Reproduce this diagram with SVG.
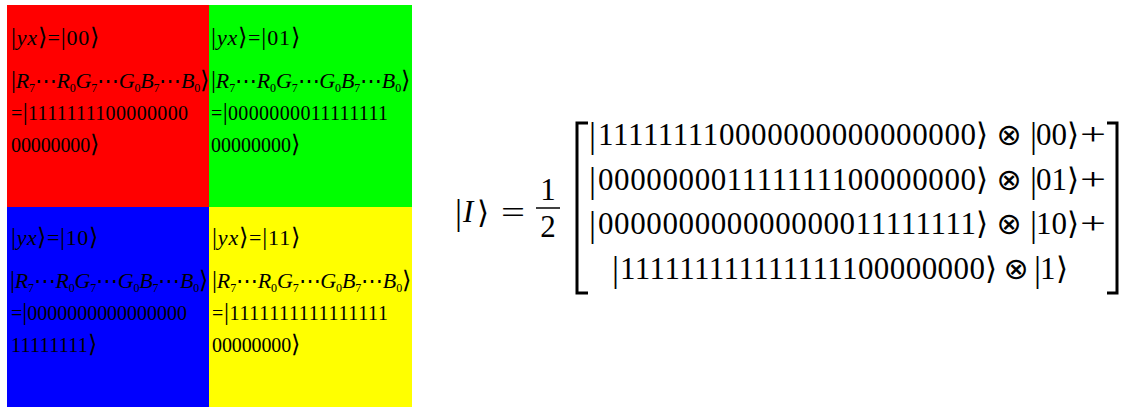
<svg xmlns="http://www.w3.org/2000/svg" width="1124" height="407" viewBox="0 0 1124 407">
<style>
.q{font-family:"Liberation Serif","DejaVu Serif",serif;font-size:20px;fill:#000}
.q1{font-size:22px}
.i{font-style:italic}
.s{font-size:12px;font-style:normal}
.b{font-size:25px;font-style:normal}
.a{font-family:"Noto Sans CJK SC","DejaVu Sans",sans-serif;font-size:24px;font-style:normal;font-weight:300}
.m{font-family:"Liberation Serif","DejaVu Serif",serif;font-size:31px;fill:#000}
.mb{font-family:"Liberation Serif","DejaVu Serif",serif;font-size:35px;fill:#000}
.ma{font-family:"Noto Sans CJK SC","DejaVu Sans",sans-serif;font-size:31px;font-weight:300;fill:#000}
.op{font-family:"DejaVu Sans",sans-serif;font-size:30px;fill:#000}
.br{fill:none;stroke:#000;stroke-width:3}
</style>
<rect width="1124" height="407" fill="#fff"/>
<g id="q00">
<rect x="7" y="5" width="202" height="202" fill="#ff0000"/>
<text class="q q1" x="11" y="45" textLength="88" lengthAdjust="spacing"><tspan class="b">|</tspan><tspan class="i">yx</tspan><tspan class="a">⟩</tspan>=<tspan class="b">|</tspan>00<tspan class="a">⟩</tspan></text>
<text class="q q1" x="11" y="88" textLength="198" lengthAdjust="spacing"><tspan class="b">|</tspan><tspan class="i">R</tspan><tspan class="s" dy="4">7</tspan><tspan dy="-4">⋯</tspan><tspan class="i">R</tspan><tspan class="s" dy="4">0</tspan><tspan class="i" dy="-4">G</tspan><tspan class="s" dy="4">7</tspan><tspan dy="-4">⋯</tspan><tspan class="i">G</tspan><tspan class="s" dy="4">0</tspan><tspan class="i" dy="-4">B</tspan><tspan class="s" dy="4">7</tspan><tspan dy="-4">⋯</tspan><tspan class="i">B</tspan><tspan class="s" dy="4">0</tspan><tspan class="a" dy="-4">⟩</tspan></text>
<text class="q" x="11" y="120" textLength="177" lengthAdjust="spacing">=<tspan class="b">|</tspan>1111111100000000</text>
<text class="q" x="11" y="152" textLength="88" lengthAdjust="spacing">00000000<tspan class="a">⟩</tspan></text>
</g>
<g id="q01">
<rect x="209" y="5" width="203" height="202" fill="#00ff00"/>
<text class="q q1" x="211" y="45" textLength="89" lengthAdjust="spacing"><tspan class="b">|</tspan><tspan class="i">yx</tspan><tspan class="a">⟩</tspan>=<tspan class="b">|</tspan>01<tspan class="a">⟩</tspan></text>
<text class="q q1" x="211" y="88" textLength="199" lengthAdjust="spacing"><tspan class="b">|</tspan><tspan class="i">R</tspan><tspan class="s" dy="4">7</tspan><tspan dy="-4">⋯</tspan><tspan class="i">R</tspan><tspan class="s" dy="4">0</tspan><tspan class="i" dy="-4">G</tspan><tspan class="s" dy="4">7</tspan><tspan dy="-4">⋯</tspan><tspan class="i">G</tspan><tspan class="s" dy="4">0</tspan><tspan class="i" dy="-4">B</tspan><tspan class="s" dy="4">7</tspan><tspan dy="-4">⋯</tspan><tspan class="i">B</tspan><tspan class="s" dy="4">0</tspan><tspan class="a" dy="-4">⟩</tspan></text>
<text class="q" x="211" y="120" textLength="177" lengthAdjust="spacing">=<tspan class="b">|</tspan>0000000011111111</text>
<text class="q" x="211" y="152" textLength="89" lengthAdjust="spacing">00000000<tspan class="a">⟩</tspan></text>
</g>
<g id="q10">
<rect x="7" y="207" width="202" height="200" fill="#0000ff"/>
<text class="q q1" x="11" y="245" textLength="87" lengthAdjust="spacing"><tspan class="b">|</tspan><tspan class="i">yx</tspan><tspan class="a">⟩</tspan>=<tspan class="b">|</tspan>10<tspan class="a">⟩</tspan></text>
<text class="q q1" x="10" y="288" textLength="198" lengthAdjust="spacing"><tspan class="b">|</tspan><tspan class="i">R</tspan><tspan class="s" dy="4">7</tspan><tspan dy="-4">⋯</tspan><tspan class="i">R</tspan><tspan class="s" dy="4">0</tspan><tspan class="i" dy="-4">G</tspan><tspan class="s" dy="4">7</tspan><tspan dy="-4">⋯</tspan><tspan class="i">G</tspan><tspan class="s" dy="4">0</tspan><tspan class="i" dy="-4">B</tspan><tspan class="s" dy="4">7</tspan><tspan dy="-4">⋯</tspan><tspan class="i">B</tspan><tspan class="s" dy="4">0</tspan><tspan class="a" dy="-4">⟩</tspan></text>
<text class="q" x="11" y="320" textLength="176" lengthAdjust="spacing">=<tspan class="b">|</tspan>0000000000000000</text>
<text class="q" x="11" y="352" textLength="86" lengthAdjust="spacing">11111111<tspan class="a">⟩</tspan></text>
</g>
<g id="q11">
<rect x="209" y="207" width="203" height="200" fill="#ffff00"/>
<text class="q q1" x="212" y="245" textLength="88" lengthAdjust="spacing"><tspan class="b">|</tspan><tspan class="i">yx</tspan><tspan class="a">⟩</tspan>=<tspan class="b">|</tspan>11<tspan class="a">⟩</tspan></text>
<text class="q q1" x="212" y="288" textLength="199" lengthAdjust="spacing"><tspan class="b">|</tspan><tspan class="i">R</tspan><tspan class="s" dy="4">7</tspan><tspan dy="-4">⋯</tspan><tspan class="i">R</tspan><tspan class="s" dy="4">0</tspan><tspan class="i" dy="-4">G</tspan><tspan class="s" dy="4">7</tspan><tspan dy="-4">⋯</tspan><tspan class="i">G</tspan><tspan class="s" dy="4">0</tspan><tspan class="i" dy="-4">B</tspan><tspan class="s" dy="4">7</tspan><tspan dy="-4">⋯</tspan><tspan class="i">B</tspan><tspan class="s" dy="4">0</tspan><tspan class="a" dy="-4">⟩</tspan></text>
<text class="q" x="212" y="320" textLength="176" lengthAdjust="spacing">=<tspan class="b">|</tspan>1111111111111111</text>
<text class="q" x="212" y="352" textLength="88" lengthAdjust="spacing">00000000<tspan class="a">⟩</tspan></text>
</g>
<g id="equation">
<text class="mb" x="455" y="224">|</text>
<text class="m i" x="463" y="222">I</text>
<text class="ma" x="477" y="223">⟩</text>
<text class="m" x="501" y="223" textLength="24" lengthAdjust="spacingAndGlyphs">=</text>
<text class="m" x="548" y="200" text-anchor="middle">1</text>
<line x1="536" y1="208" x2="560" y2="208" stroke="#000" stroke-width="1.5"/>
<text class="m" x="548" y="237" text-anchor="middle">2</text>
<path class="br" d="M588,123 H577 V293 H588"/>
<path class="br" d="M1107,123 H1117 V293 H1107"/>
<text class="mb" x="589" y="147">|</text>
<text class="m" x="598" y="145" textLength="378" lengthAdjust="spacing">111111110000000000000000</text>
<text class="ma" x="976" y="145">⟩</text>
<text class="op" x="1009" y="145" text-anchor="middle">⊗</text>
<text class="mb" x="1030" y="147">|</text>
<text class="m" x="1036" y="145">00</text>
<text class="ma" x="1067" y="145">⟩</text>
<text class="m" x="1080" y="145" textLength="26" lengthAdjust="spacingAndGlyphs">+</text>
<text class="mb" x="589" y="192">|</text>
<text class="m" x="598" y="190" textLength="378" lengthAdjust="spacing">000000001111111100000000</text>
<text class="ma" x="976" y="190">⟩</text>
<text class="op" x="1009" y="190" text-anchor="middle">⊗</text>
<text class="mb" x="1030" y="192">|</text>
<text class="m" x="1036" y="190">01</text>
<text class="ma" x="1067" y="190">⟩</text>
<text class="m" x="1080" y="190" textLength="26" lengthAdjust="spacingAndGlyphs">+</text>
<text class="mb" x="589" y="236">|</text>
<text class="m" x="598" y="234" textLength="378" lengthAdjust="spacing">000000000000000011111111</text>
<text class="ma" x="976" y="234">⟩</text>
<text class="op" x="1009" y="234" text-anchor="middle">⊗</text>
<text class="mb" x="1030" y="236">|</text>
<text class="m" x="1036" y="234">10</text>
<text class="ma" x="1067" y="234">⟩</text>
<text class="m" x="1080" y="234" textLength="26" lengthAdjust="spacingAndGlyphs">+</text>
<text class="mb" x="612" y="281">|</text>
<text class="m" x="620" y="279" textLength="365" lengthAdjust="spacing">111111111111111100000000</text>
<text class="ma" x="985" y="279">⟩</text>
<text class="op" x="1016" y="279" text-anchor="middle">⊗</text>
<text class="mb" x="1034" y="281">|</text>
<text class="m" x="1040" y="279">1</text>
<text class="ma" x="1056" y="279">⟩</text>
</g>
</svg>
